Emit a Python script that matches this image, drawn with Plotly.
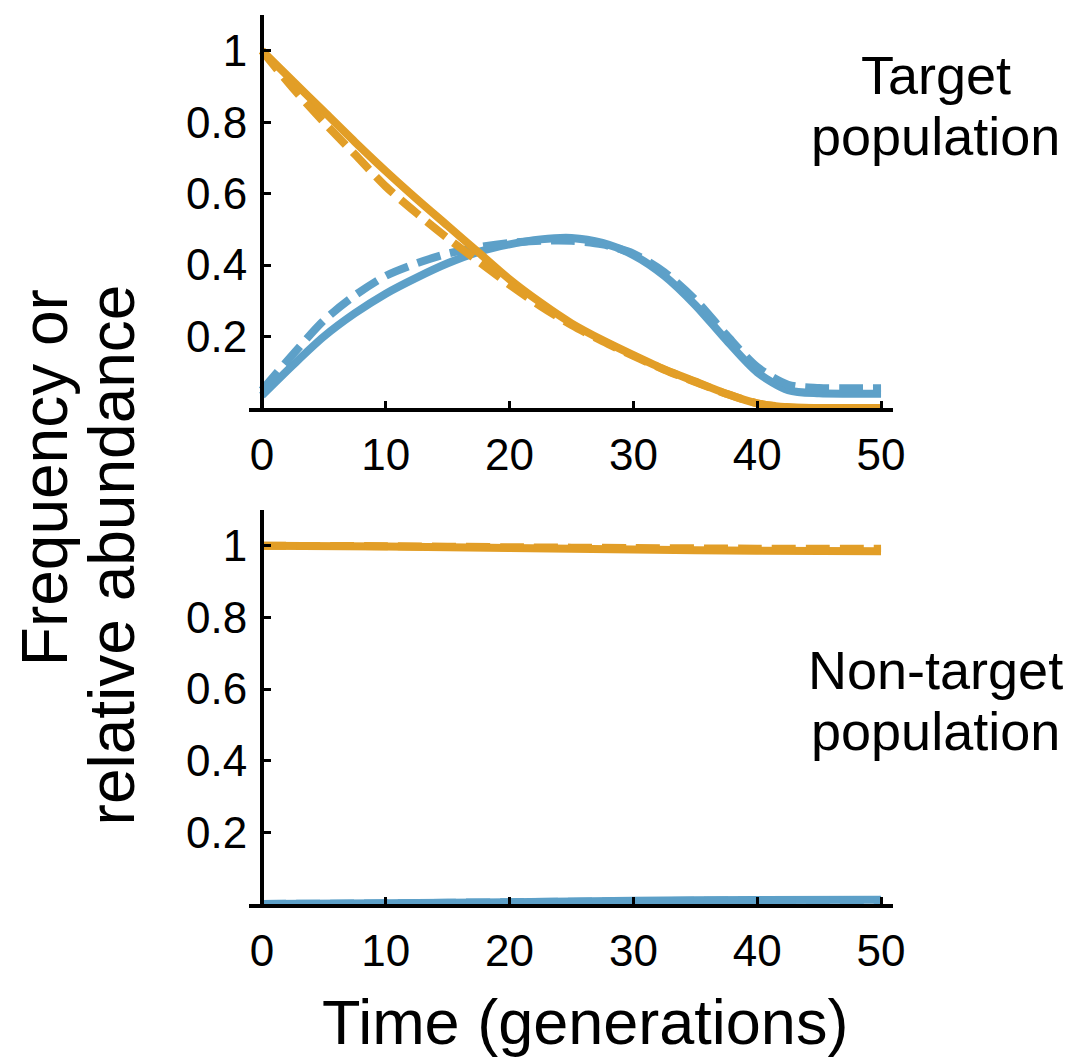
import plotly.graph_objects as go

# ---- data ----
t_top = [0, 2.5, 5, 7.5, 10, 12.5, 15, 17.5, 20, 22.5, 25, 27.5, 30, 32.5, 35, 37.5, 40, 42.5, 45, 47.5, 50]
top_orange_solid = [1.0, 0.915, 0.83, 0.745, 0.663, 0.585, 0.51, 0.435, 0.36, 0.295, 0.237, 0.19, 0.148, 0.108, 0.074, 0.04, 0.013, 0.002, 0.0, 0.0, 0.0]
top_orange_dash = [1.0, 0.895, 0.80, 0.71, 0.62, 0.545, 0.475, 0.41, 0.345, 0.285, 0.232, 0.187, 0.146, 0.107, 0.073, 0.04, 0.013, 0.002, 0.0, 0.0, 0.0]
top_blue_solid = [0.035, 0.12, 0.20, 0.265, 0.32, 0.365, 0.405, 0.437, 0.458, 0.472, 0.476, 0.462, 0.428, 0.37, 0.288, 0.19, 0.10, 0.05, 0.041, 0.04, 0.04]
top_blue_dash = [0.05, 0.15, 0.245, 0.315, 0.37, 0.405, 0.432, 0.45, 0.462, 0.468, 0.468, 0.458, 0.432, 0.38, 0.303, 0.205, 0.115, 0.065, 0.056, 0.055, 0.055]

t_bot = [0, 10, 20, 30, 40, 50]
bot_orange_solid = [1.0, 0.998, 0.994, 0.99, 0.986, 0.985]
bot_orange_dash = [1.0, 0.999, 0.996, 0.994, 0.992, 0.992]
bot_blue_solid = [0.0, 0.002, 0.005, 0.009, 0.011, 0.012]
bot_blue_dash = [0.0, 0.002, 0.005, 0.008, 0.010, 0.011]

x_ticks = [0, 10, 20, 30, 40, 50]
y_ticks = [0.2, 0.4, 0.6, 0.8, 1]
y_ticktext = ["0.2", "0.4", "0.6", "0.8", "1"]

ORANGE = "#E29E27"
BLUE = "#5DA0C8"
DASH = "24px,10px"
LW = 8

W, H = 1070, 1064
SX = 1 / 0.985  # horizontal correction observed in rendering


def fx(px):
    return px * SX / W


x_range = [-1.05, 51]
x_dom = [fx(248), fx(890)]
y_dom_top = [1 - 408 / H, 1 - 15 / H]
y_dom_bot = [1 - 904 / H, 1 - 510 / H]
y_pos = x_dom[0] + (0 - x_range[0]) / (x_range[1] - x_range[0]) * (x_dom[1] - x_dom[0])

fig = go.Figure()


def add(x, y, color, dash, xa, ya):
    fig.add_trace(go.Scatter(
        x=x, y=y, mode="lines", xaxis=xa, yaxis=ya,
        line=dict(color=color, width=LW, dash=dash, shape="spline", smoothing=0.8),
        showlegend=False, hoverinfo="skip"))


add(t_top, top_blue_solid, BLUE, "solid", "x", "y")
add(t_top, top_blue_dash, BLUE, DASH, "x", "y")
add(t_top, top_orange_solid, ORANGE, "solid", "x", "y")
add(t_top, top_orange_dash, ORANGE, DASH, "x", "y")

add(t_bot, bot_blue_solid, BLUE, "solid", "x2", "y2")
add(t_bot, bot_blue_dash, BLUE, DASH, "x2", "y2")
add(t_bot, bot_orange_solid, ORANGE, "solid", "x2", "y2")
add(t_bot, bot_orange_dash, ORANGE, DASH, "x2", "y2")

FONT = "Liberation Sans, Arial, Helvetica, sans-serif"
tickfont = dict(family=FONT, size=44, color="black")

xaxis_common = dict(
    range=x_range, domain=x_dom, showgrid=False, zeroline=False,
    showline=True, linecolor="black", linewidth=4,
    ticks="inside", ticklen=7, tickwidth=3, tickcolor="black",
    tickvals=x_ticks, tickfont=tickfont, ticklabelstandoff=5,
    fixedrange=True)
yaxis_common = dict(
    range=[0, 1.1], showgrid=False, zeroline=False,
    showline=True, linecolor="black", linewidth=4,
    ticks="inside", ticklen=7, tickwidth=3, tickcolor="black",
    tickvals=y_ticks, ticktext=y_ticktext, tickfont=tickfont,
    ticklabelstandoff=4, anchor="free", position=y_pos, fixedrange=True)


def ann(text, px, py, size, angle=0):
    return dict(text=text, x=fx(px), y=1 - py / H, xref="paper", yref="paper",
                showarrow=False, xanchor="center", yanchor="middle", textangle=angle,
                font=dict(family=FONT, size=size, color="black"))


fig.update_layout(
    width=W, height=H,
    margin=dict(l=0, r=0, t=0, b=0),
    paper_bgcolor="white", plot_bgcolor="rgba(0,0,0,0)",
    xaxis=dict(anchor="y", **xaxis_common),
    xaxis2=dict(anchor="y2", **xaxis_common),
    yaxis=dict(domain=y_dom_top, **yaxis_common),
    yaxis2=dict(domain=y_dom_bot, **yaxis_common),
    annotations=[
        ann("Target", 932, 75, 54),
        ann("population", 932, 136, 54),
        ann("Non-target", 932, 670, 54),
        ann("population", 932, 731, 54),
        ann("Frequency or", 45, 478, 64, -90),
        ann("relative abundance", 112, 555, 64, -90),
        ann("Time (generations)", 583, 1022, 63),
    ],
)

fig.write_html("out.html", config={"displayModeBar": False},
               post_script="document.body.style.margin='0';document.body.style.overflow='hidden';")
